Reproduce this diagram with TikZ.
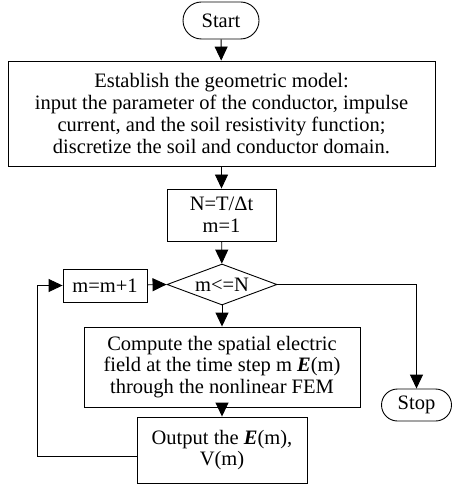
\documentclass[tikz,border=0pt]{standalone}
\usepackage{fontspec}
\setmainfont{Liberation Serif}
\usepackage{tikz}
\usetikzlibrary{arrows.meta, positioning, calc, shapes.geometric, shapes.misc}

\begin{document}
\begin{tikzpicture}[x=1pt, y=-1pt,
  every node/.style={font=\fontsize{20.5}{21.7}\selectfont, inner sep=0pt, line width=0.9pt},
  term/.style={draw, rounded rectangle},
  proc/.style={draw, rectangle, align=center},
  cond/.style={draw, diamond, aspect=2.68},
  flow/.style={line width=0.9pt, -{Triangle[length=14pt,width=13pt]}},
  line/.style={line width=0.9pt}]
  \useasboundingbox (0,0) rectangle (452,486);
  \node[term, minimum width=76pt, minimum height=37pt] (start) at (221,20.5) {Start};
  \node[proc, minimum width=427pt, minimum height=105pt] (model) at (221.5,113.5)
    {Establish the geometric model:\\ input the parameter of the conductor, impulse\\
     current, and the soil resistivity function;\\ discretize the soil and conductor domain.};
  \node[proc, minimum width=109pt, minimum height=52pt] (init) at (221.5,215) {N=T/Δt\\ m=1};
  \node[cond, minimum width=110pt, minimum height=41pt] (check) at (222,284.5) {m<=N};
  \node[proc, minimum width=84pt, minimum height=33pt] (incr) at (105,285.5) {m=m+1};
  \node[proc, minimum width=276pt, minimum height=80pt] (field) at (222,367)
    {Compute the spatial electric\\ field at the time step m \textbf{\textit{E}}(m)\\ through the nonlinear FEM};
  \node[proc, minimum width=170pt, minimum height=66pt] (output) at (222,450)
    {Output the \textbf{\textit{E}}(m),\\ V(m)};
  \node[term, minimum width=70pt, minimum height=32pt] (stop) at (416.5,405) {Stop};
  \coordinate (loopend) at ([yshift=-6pt]output.west);
  \coordinate (loopx) at (37.5,0);

  \draw[flow] (start) -- (model);
  \draw[flow] (model) -- (init);
  \draw[flow] (init) -- (check);
  \draw[flow] (check) -- (field);
  \draw[flow] (field) -- (output);
  \draw[flow] (incr) -- (check.west);
  \draw[flow] (check.east) -| (stop.north);
  \draw[flow] (loopend) -- (loopend -| loopx) |- (incr.west);
\end{tikzpicture}
\end{document}
